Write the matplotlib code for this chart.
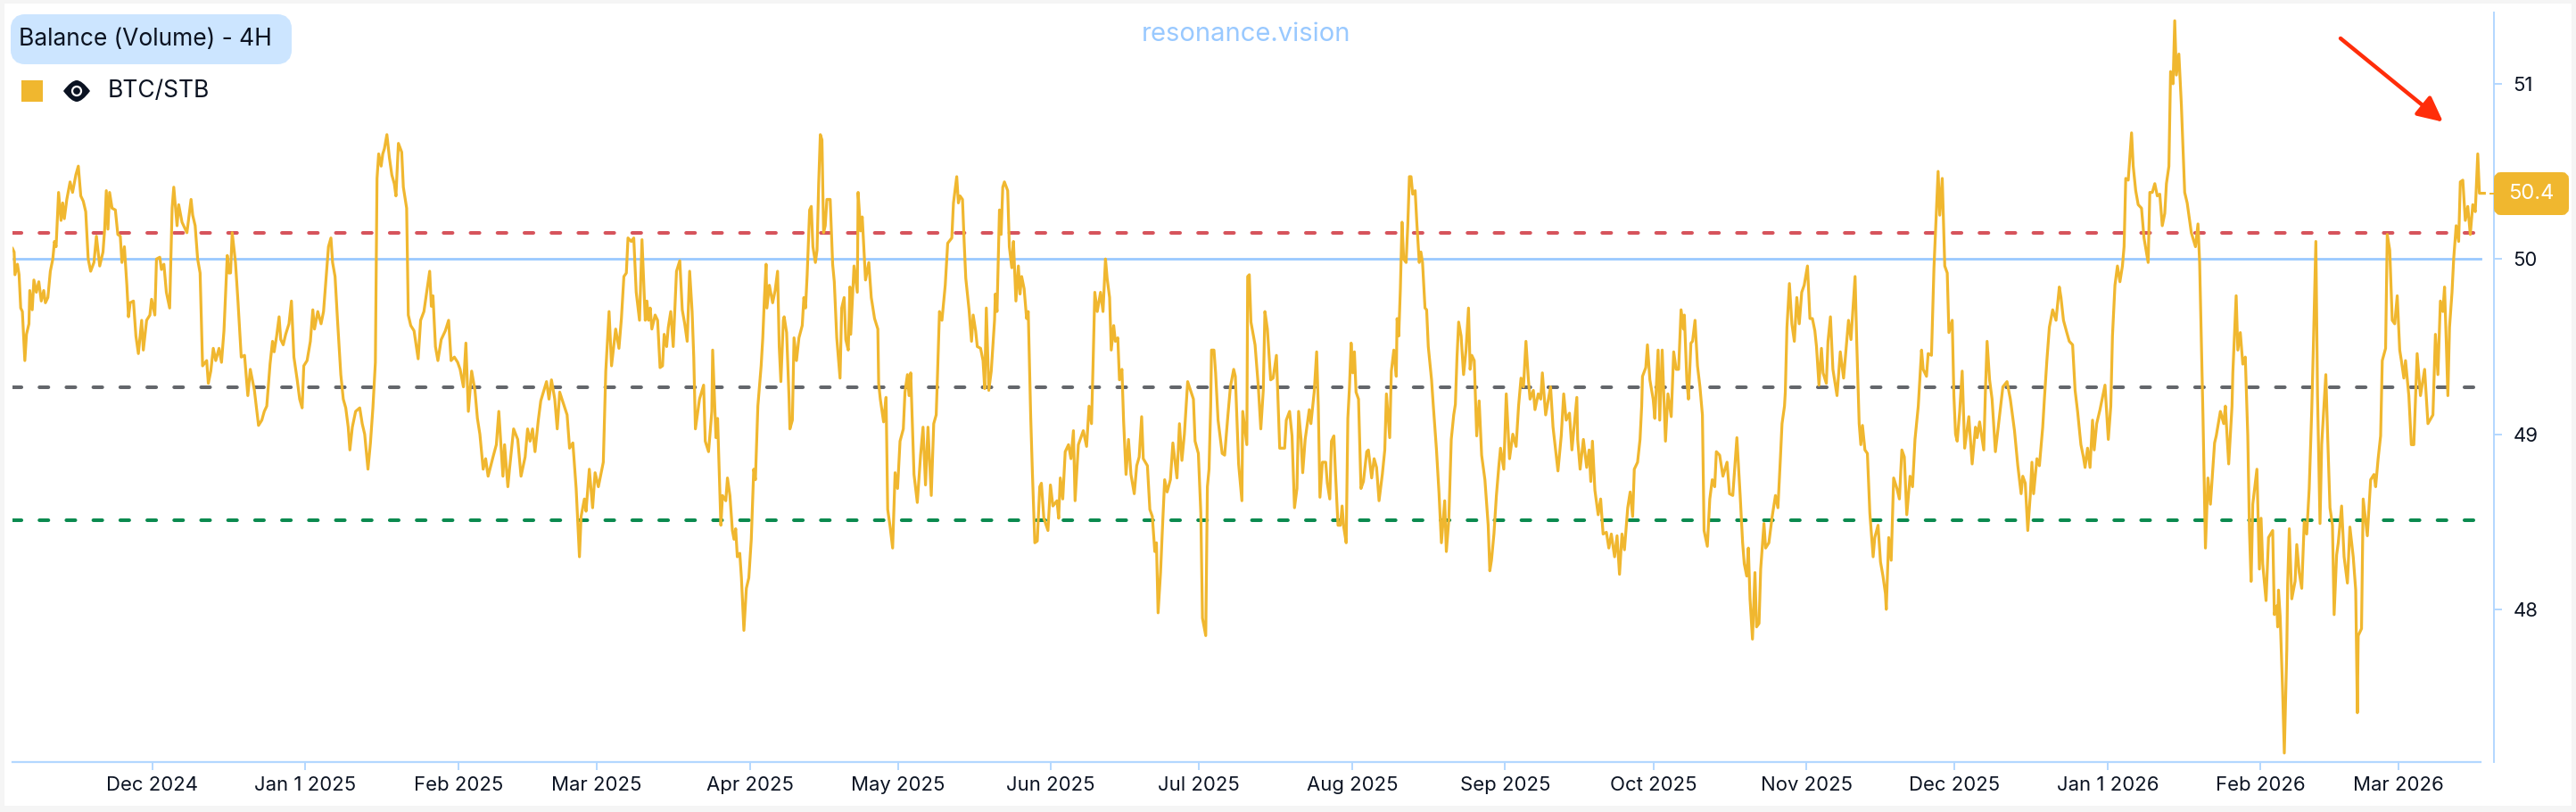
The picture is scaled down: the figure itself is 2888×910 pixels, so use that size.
import matplotlib
matplotlib.use("Agg")
import matplotlib.pyplot as plt
import matplotlib.dates as mdates
from matplotlib.patches import FancyBboxPatch, FancyArrowPatch, PathPatch, Rectangle, Circle
from matplotlib.path import Path
import numpy as np
import pandas as pd

plt.rcParams['font.family'] = ['Inter', 'DejaVu Sans']

# 4H bars counted from the first candle
START = pd.Timestamp("2024-11-02 16:00")

nov_to_mar = [(0,50.06),(2,50.04),(3,49.91),(6,49.97),(8,49.91),(10,49.72),(12,49.70),(15,49.42),(17,49.57),(20,49.63),
(21,49.82),(24,49.71),(26,49.88),(29,49.81),(32,49.87),(35,49.76),(38,49.82),(40,49.75),(43,49.78),(46,49.93),
(49,50.00),(51,50.10),(53,50.07),(56,50.38),(59,50.22),(61,50.32),(63,50.23),(66,50.34),(70,50.44),(73,50.38),
(77,50.48),(80,50.53),(83,50.36),(86,50.33),(89,50.27),(92,50.00),(95,49.93),(99,49.98),(102,50.13),(106,49.96),
(110,50.04),(112,50.17),(114,50.39),(116,50.17),(118,50.38),(121,50.29),(125,50.28),(128,50.14),(131,50.13),(133,49.98),
(136,50.07),(139,49.85),(141,49.67),(143,49.75),(147,49.76),(150,49.56),(153,49.46),(157,49.65),(159,49.48),(163,49.65),
(167,49.68),(169,49.77),(173,49.68),(175,50.00),(179,50.01),(181,49.94),(184,49.97),(187,49.81),(191,49.72),(194,50.29),
(196,50.41),(200,50.19),(202,50.31),(206,50.21),(212,50.15),(217,50.34),(219,50.25),(222,50.19),(225,50.00),(228,49.92),
(231,49.39),(236,49.42),(238,49.29),(241,49.36),(244,49.49),(247,49.42),(251,49.49),(254,49.41),(257,49.59),(261,50.02),
(263,49.92),(265,49.92),(267,50.15),(271,49.98),(274,49.76),(278,49.44),(282,49.45),(286,49.22),(289,49.37),(294,49.25),
(299,49.05),(303,49.08),(306,49.13),(309,49.16),(313,49.40),(316,49.53),(318,49.47),(321,49.56),(324,49.67),(326,49.54),
(329,49.51),(332,49.57),(336,49.63),(339,49.76),(342,49.44),(346,49.31),(349,49.20),(352,49.15),(354,49.39),(358,49.42),
(362,49.53),(365,49.71),(367,49.60),(371,49.70),(375,49.63),(378,49.70),(382,49.95),(384,50.07),(387,50.12),(389,49.98),
(392,49.90),(395,49.65),(399,49.34),(402,49.20),(405,49.15),(408,49.04),(410,48.91),(413,49.04),(417,49.13),(422,49.15),
(425,49.06),(428,49.00),(432,48.80),(435,48.95),(438,49.15),(441,49.41),(443,50.46),(445,50.60),(448,50.53),(450,50.60),
(452,50.63),(455,50.71),(458,50.58),(461,50.48),(464,50.43),(466,50.36),(469,50.66),(473,50.61),(475,50.41),(479,50.29),
(481,49.68),(484,49.62),(488,49.59),(493,49.43),(496,49.65),(500,49.70),(504,49.83),(507,49.93),(509,49.73),(511,49.79),
(514,49.50),(517,49.42),(521,49.54),(526,49.59),(530,49.65),(533,49.42),(537,49.44),(541,49.41),(544,49.37),(548,49.27),
(551,49.52),(554,49.13),(558,49.36),(562,49.25),(565,49.09),(568,49.00),(572,48.80),(575,48.86),(578,48.76),(584,48.87),
(588,48.94),(591,49.13),(596,48.76),(598,48.94),(602,48.70),(604,48.80),(609,49.03),(614,48.97),(618,48.76),(623,48.87),
(626,49.03),(629,48.96),(632,49.03),(635,48.90),(639,49.08),(642,49.19),(649,49.30),(652,49.20),(655,49.31),(659,49.20),
(662,49.03),(665,49.24),(674,49.11),(677,48.92),(681,48.95),(685,48.69),(689,48.30),(691,48.53),(695,48.63),(697,48.56),
(701,48.80),(705,48.58),(708,48.78),(712,48.70),(718,48.84),(721,49.36),(725,49.70),(728,49.39),(733,49.60),(737,49.49),
(740,49.66),(743,49.90),(746,49.92),(748,50.12),(752,50.10),(755,50.12),(758,49.81),(762,49.65)]

mar_to_jul = [(767,50.11),(771,49.65),(773,49.76),(775,49.65),(777,49.72),(779,49.60),(783,49.68),(786,49.65),(789,49.38),(792,49.39),
(794,49.57),(797,49.50),(799,49.61),(802,49.70),(805,49.50),(809,49.93),(813,49.99),(816,49.71),(819,49.63),(822,49.53),
(825,49.93),(828,49.70),(830,49.44),(832,49.03),(837,49.20),(842,49.28),(844,48.96),(848,48.90),(852,49.13),(853,49.48),
(857,48.98),(859,49.09),(863,48.48),(865,48.65),(869,48.62),(871,48.75),(874,48.65),(877,48.45),(879,48.40),(881,48.46),
(883,48.30),(886,48.32),(888,48.18),(891,47.88),(894,48.12),(897,48.18),(900,48.40),(903,48.80),(905,48.74),(908,49.16),
(912,49.39),(914,49.55),(916,49.78),(918,49.97),(919,49.72),(922,49.85),(926,49.75),(929,49.82),(932,49.93),(934,49.50),
(936,49.30),(939,49.65),(940,49.67),(943,49.58),(946,49.20),(947,49.03),(950,49.08),(952,49.55),(955,49.42),(958,49.55),
(962,49.62),(964,49.78),(966,49.72),(968,49.91),(971,50.28),(973,50.30),(975,50.07),(978,49.98),(980,50.05),(982,50.43),
(984,50.71),(986,50.68),(988,50.15),(990,50.19),(992,50.34),(996,50.34),(999,49.97),(1001,49.87),(1004,49.55),(1008,49.32),
(1010,49.72),(1013,49.78),(1015,49.54),(1018,49.48),(1020,49.84),(1021,49.57),(1025,49.96),(1029,49.81),(1030,50.38),(1033,50.16),
(1035,50.24),(1039,49.88),(1043,49.98),(1046,49.78),(1050,49.66),(1054,49.60),(1055,49.29),(1057,49.20),(1061,49.07),(1064,49.21),
(1066,48.57),(1069,48.47),(1072,48.35),(1075,48.78),(1078,48.69),(1081,48.96),(1085,49.03),(1087,49.24),(1090,49.34),(1092,49.22),
(1094,49.35),(1098,48.77),(1102,48.61),(1106,48.88),(1109,49.04),(1112,48.71),(1115,49.04),(1119,48.65),(1122,49.06),(1125,49.11),
(1126,49.25),(1129,49.70),(1132,49.65),(1136,49.85),(1139,50.09),(1144,50.12),(1146,50.32),(1149,50.43),(1150,50.47),(1152,50.32),
(1154,50.36),(1157,50.34),(1159,50.10),(1161,49.89),(1165,49.71),(1168,49.53),(1170,49.68),(1173,49.59),(1175,49.50),(1179,49.49),
(1182,49.42),(1184,49.26),(1186,49.72),(1189,49.25),(1192,49.36),(1196,49.65),(1197,49.80),(1199,49.70),(1202,50.28),(1204,50.14),
(1206,50.41),(1208,50.44),(1212,50.39),(1214,50.07),(1217,49.95),(1219,50.10),(1222,49.76),(1225,49.96),(1227,49.80),(1229,49.90),
(1232,49.83),(1235,49.66),(1237,49.70),(1240,49.10),(1242,48.79),(1245,48.38),(1248,48.39),(1251,48.70),(1253,48.72),(1256,48.52),
(1261,48.45),(1264,48.71),(1267,48.59),(1272,48.62),(1274,48.52),(1276,48.75),(1279,48.63),(1282,48.90),(1286,48.94),(1289,48.86),
(1292,49.02),(1294,48.62),(1298,48.94),(1304,49.02),(1308,48.93),(1311,49.16),(1314,49.06),(1316,49.42),(1318,49.81),(1321,49.70),
(1325,49.81),(1328,49.70),(1331,50.00),(1333,49.89),(1336,49.78),(1338,49.48),(1341,49.62),(1343,49.53),(1346,49.55),(1348,49.31),
(1351,49.37),(1353,49.08),(1356,48.77),(1359,48.97),(1362,48.77),(1366,48.66),(1369,48.82),(1372,48.87),(1375,49.10),(1377,48.86),
(1382,48.82),(1385,48.57),(1388,48.53),(1391,48.33),(1393,48.38),(1395,47.98),(1398,48.21),(1400,48.43),(1403,48.74),(1406,48.67),
(1410,48.74),(1413,48.95),(1415,48.87),(1418,48.75),(1421,49.06),(1424,48.85),(1427,49.00),(1431,49.30),(1438,49.20),(1440,48.96),
(1444,48.89),(1447,48.55),(1449,47.95),(1453,47.85),(1455,48.70),(1457,48.80),(1459,49.16),(1460,49.48),(1463,49.48),(1465,49.35),
(1468,49.08),(1473,48.89),(1476,48.88),(1480,49.11),(1483,49.27),(1487,49.37),(1489,49.33),(1493,48.83),(1497,48.62),(1498,49.13),
(1503,48.94),(1504,49.90),(1506,49.91),(1508,49.64),(1513,49.51),(1517,49.27),(1520,49.03),(1523,49.25),(1525,49.70),(1528,49.60),
(1532,49.31),(1535,49.32),(1539,49.45),(1543,48.92)]

jul_to_nov = [(1549,48.92),(1551,49.08),(1555,49.13),(1558,48.99),(1561,48.58),(1564,48.69),(1566,49.13),(1569,48.97),(1571,48.78),(1574,48.97),
(1579,49.14),(1581,49.06),(1585,49.24),(1588,49.47),(1590,49.16),(1592,48.64),(1595,48.84),(1599,48.84),(1601,48.72),(1604,48.63),
(1606,48.96),(1609,48.99),(1611,48.77),(1614,48.48),(1617,48.48),(1619,48.59),(1621,48.47),(1624,48.38),(1626,49.09),(1628,49.27),
(1630,49.52),(1632,49.35),(1634,49.47),(1636,49.24),(1639,49.20),(1642,48.69),(1645,48.73),(1649,48.90),(1651,48.91),(1655,48.75),
(1658,48.86),(1661,48.81),(1664,48.62),(1668,48.77),(1671,48.91),(1673,49.23),(1677,48.98),(1679,49.36),(1682,49.48),(1685,49.33),
(1686,49.66),(1688,49.56),(1690,49.83),(1692,50.21),(1694,50.00),(1697,49.98),(1699,50.19),(1701,50.47),(1703,50.47),(1705,50.37),
(1708,50.39),(1710,50.21),(1713,49.98),(1715,50.04),(1717,49.98),(1720,49.72),(1722,49.71),(1724,49.50),(1728,49.31),(1730,49.17),
(1734,48.91),(1737,48.67),(1740,48.38),(1744,48.62),(1746,48.33),(1749,48.51),(1752,48.97),(1755,49.11),(1757,49.17),(1759,49.44),
(1761,49.64),(1764,49.56),(1767,49.34),(1770,49.48),(1773,49.72),(1775,49.37),(1777,49.45),(1780,49.42),(1783,48.99),(1786,49.19),
(1789,48.88),(1793,48.74),(1797,48.48),(1799,48.22),(1801,48.28),(1804,48.43),(1807,48.65),(1810,48.82),(1812,48.92),(1816,48.80),
(1819,49.23),(1823,48.86),(1827,49.00),(1831,48.93),(1834,49.16),(1837,49.32),(1840,49.27),(1843,49.53),(1846,49.31),(1848,49.20),
(1852,49.25),(1854,49.14),(1858,49.23),(1861,49.20),(1863,49.35),(1867,49.11),(1873,49.27),(1876,49.04),(1882,48.79),(1886,48.99),
(1889,49.23),(1892,49.08),(1896,49.12),(1899,48.91),(1905,49.21),(1906,48.97),(1909,48.80),(1913,48.97),(1917,48.81),(1920,48.91),
(1922,48.73),(1924,48.96),(1927,48.68),(1931,48.54),(1934,48.63),(1937,48.43),(1941,48.44),(1944,48.35),(1947,48.43),(1951,48.30),
(1954,48.42),(1957,48.20),(1960,48.43),(1963,48.34),(1967,48.58),(1970,48.67),(1973,48.53),(1975,48.80),(1979,48.84),(1982,48.97),
(1984,49.16),(1985,49.33),(1989,49.38),(1991,49.51),(1994,49.31),(1998,49.20),(2000,49.09),(2004,49.48),(2006,49.08),(2009,49.48),
(2013,48.96),(2016,49.23),(2020,49.10),(2023,49.47),(2026,49.37),(2029,49.37),(2032,49.71),(2035,49.60),(2036,49.68),(2039,49.31),
(2041,49.20),(2044,49.52),(2046,49.53),(2049,49.65),(2052,49.39),(2055,49.27),(2058,49.11),(2060,48.45),(2064,48.36),(2067,48.63),
(2070,48.74),(2073,48.70),(2075,48.90),(2079,48.88),(2083,48.76),(2088,48.84),(2091,48.66),(2095,48.65),(2100,48.98),(2104,48.65),
(2107,48.38),(2109,48.26),(2112,48.19),(2114,48.35),(2116,48.06),(2119,47.83),(2122,48.21),(2124,47.90),(2127,47.92),(2129,48.23),
(2133,48.49),(2135,48.35),(2139,48.38),(2143,48.53),(2147,48.65),(2150,48.58),(2153,48.86),(2155,49.06),(2158,49.16),(2159,49.24),
(2161,49.61),(2164,49.86),(2167,49.63),(2170,49.53),(2173,49.78),(2176,49.63),(2179,49.81),(2182,49.85),(2186,49.96),(2189,49.66),
(2192,49.66),(2195,49.59),(2197,49.50),(2200,49.28),(2203,49.49),(2205,49.35),(2209,49.29),(2211,49.53),(2214,49.67),(2217,49.37),
(2222,49.22),(2226,49.47),(2230,49.32),(2236,49.65),(2239,49.54),(2244,49.90),(2246,49.53),(2249,49.06),(2251,48.94),(2253,49.05),
(2256,48.91),(2259,48.89),(2262,48.55),(2266,48.30),(2268,48.41),(2272,48.48),(2275,48.27),(2278,48.19),(2281,48.09),(2282,48.00),
(2285,48.41),(2288,48.28),(2291,48.75),(2295,48.69),(2298,48.63),(2301,48.91),(2304,48.87),(2307,48.54),(2311,48.76),(2314,48.70),
(2317,48.97),(2321,49.16),(2325,49.48),(2327,49.37)]

nov_to_end = [(2332,49.33),(2334,49.46),(2338,49.45),(2341,49.95),(2346,50.50),(2348,50.25),(2351,50.46),(2354,49.96),(2357,49.92),(2359,49.58),
(2363,49.65),(2365,49.22),(2367,49.00),(2369,48.96),(2372,49.13),(2375,49.36),(2378,48.92),(2383,49.10),(2387,48.83),(2391,49.04),
(2393,48.98),(2396,49.07),(2401,48.91),(2403,49.25),(2405,49.53),(2408,49.31),(2411,49.20),(2415,48.90),(2424,49.27),(2429,49.30),
(2433,49.20),(2438,49.02),(2442,48.82),(2446,48.66),(2448,48.76),(2451,48.72),(2454,48.45),(2457,48.65),(2459,48.84),(2461,48.66),
(2465,48.86),(2468,48.82),(2472,49.04),(2474,49.20),(2477,49.42),(2480,49.61),(2484,49.71),(2488,49.65),(2492,49.84),(2494,49.78),
(2497,49.65),(2501,49.58),(2504,49.53),(2508,49.51),(2511,49.25),(2514,49.13),(2518,48.94),(2521,48.87),(2523,48.81),(2526,48.92),
(2529,48.81),(2532,49.08),(2534,48.91),(2537,49.06),(2541,49.14),(2547,49.28),(2551,48.97),(2554,49.16),(2556,49.56),(2559,49.85),
(2562,49.96),(2565,49.87),(2568,49.96),(2570,50.07),(2572,50.46),(2575,50.45),(2579,50.72),(2581,50.53),(2584,50.39),(2587,50.31),
(2591,50.29),(2594,50.12),(2599,49.98),(2601,50.38),(2604,50.38),(2607,50.43),(2610,50.36),(2613,50.37),(2616,50.19),(2619,50.26),
(2621,50.43),(2624,50.53),(2626,51.07),(2629,51.00),(2631,51.36),(2633,51.05),(2636,51.17),(2639,50.88),(2643,50.38),(2646,50.32),
(2651,50.15),(2656,50.07),(2659,50.20),(2661,49.98),(2664,49.31),(2665,49.11),(2668,48.35),(2671,48.75),(2674,48.60),(2679,48.95),
(2681,48.99),(2686,49.13),(2690,49.06),(2692,49.16),(2696,48.83),(2700,49.16),(2701,49.35),(2705,49.79),(2707,49.48),(2710,49.58),
(2713,49.40),(2716,49.44),(2719,48.99),(2721,48.45),(2723,48.16),(2725,48.60),(2730,48.80),(2733,48.23),(2735,48.52),(2737,48.26),
(2741,48.05),(2744,48.41),(2749,48.45),(2751,47.97),(2754,48.02),(2755,47.90),(2756,48.11),(2758,47.96),(2761,47.53),(2763,47.18),
(2766,47.77),(2767,48.14),(2769,48.46),(2772,48.06),(2776,48.16),(2778,48.37),(2781,48.21),(2784,48.12),(2787,48.50),(2790,48.43),
(2793,48.69),(2796,49.13),(2798,49.50),(2801,50.10),(2803,49.22),(2806,48.49),(2808,48.94),(2813,49.34),(2815,49.02),(2818,48.58),
(2821,48.48),(2823,47.97),(2826,48.31),(2828,48.38),(2832,48.59),(2835,48.30),(2839,48.15),(2842,48.47),(2846,48.30),(2849,48.11),
(2851,47.41),(2852,47.85),(2856,47.89),(2858,48.63),(2863,48.42),(2867,48.74),(2871,48.77),(2873,48.70),(2876,48.86),(2879,48.99),
(2881,49.42),(2885,49.49),(2887,50.14),(2890,50.05),(2893,49.65),(2896,49.63),(2899,49.79),(2902,49.48),(2904,49.42),(2907,49.32),
(2909,49.42),(2913,49.22),(2916,48.94),(2919,48.94),(2923,49.46),(2927,49.22),(2932,49.37),(2936,49.06),(2942,49.11),(2945,49.57),
(2948,49.34),(2951,49.76),(2954,49.70),(2956,49.84),(2958,49.54),(2960,49.22),(2962,49.61),(2965,49.81),(2967,50.00),(2970,50.19),
(2973,50.10),(2975,50.44),(2978,50.45),(2981,50.22),(2984,50.30),(2987,50.14),(2990,50.31),(2993,50.27),(2996,50.60),(2998,50.375),
(3004,50.375)]

# bar count drifts a little over each stretch, (at first bar, at last bar)
bar_drift = [(0, 0), (2, 3), (3, 5), (6, 0)]

upper_band = 50.15
mid_band = 49.27
lower_band = 48.51
base_level = 50.0
last_value = "50.4"

month_ticks = ["2024-12-01", "2025-01-01", "2025-02-01", "2025-03-01", "2025-04-01", "2025-05-01", "2025-06-01", "2025-07-01",
               "2025-08-01", "2025-09-01", "2025-10-01", "2025-11-01", "2025-12-01", "2026-01-01", "2026-02-01", "2026-03-01"]
month_labels = ["Dec 2024", "Jan 1 2025", "Feb 2025", "Mar 2025", "Apr 2025", "May 2025", "Jun 2025", "Jul 2025",
                "Aug 2025", "Sep 2025", "Oct 2025", "Nov 2025", "Dec 2025", "Jan 1 2026", "Feb 2026", "Mar 2026"]
value_ticks = [48, 49, 50, 51]

LINE = "#f0b72f"
AXIS = "#b3d7ff"
INK = "#0b1322"
W, H = 2888, 910

dates, values = [], []
for stretch, drift in zip([nov_to_mar, mar_to_jul, jul_to_nov, nov_to_end], bar_drift):
    bars = np.array([b for b, v in stretch], dtype=float)
    bars = bars - np.interp(bars, [bars[0], bars[-1]], drift)
    dates += [START + pd.Timedelta(hours=4 * b) for b in bars]
    values += [v for b, v in stretch]

fig = plt.figure(figsize=(W / 100, H / 100), dpi=100, facecolor="#f5f5f5")

# background card, chart and overlay share the same pixel layout
bg = fig.add_axes([0, 0, 1, 1], zorder=0)
bg.set_xlim(0, W)
bg.set_ylim(H, 0)
bg.axis("off")
bg.add_patch(Rectangle((4.5, 4), 2883 - 4.5, 903 - 4, facecolor="white", edgecolor="none"))

ax = fig.add_axes([14 / W, 1 - 853.7 / H, (2796 - 14) / W, (853.7 - 14) / H], zorder=1, facecolor="none")
right_date = START + pd.Timedelta(days=502.6)
end_axis = START + pd.Timedelta(days=499.8)
ax.set_xlim(START, right_date)
ax.set_ylim(47.13, 51.407)

for level, col in [(upper_band, "#d6545c"), (mid_band, "#63666b"), (lower_band, "#0a8a4f")]:
    ax.plot([START, end_axis], [level, level], color=col, lw=2.9, dashes=(2.5, 5),
            dash_capstyle="round", zorder=2)
ax.plot([START, end_axis], [base_level, base_level], color="#99c9ff", lw=2.0, zorder=1)
ax.plot(dates, values, color=LINE, lw=2.3, solid_joinstyle="round", zorder=3)

for side in ["top", "left"]:
    ax.spines[side].set_visible(False)
ax.spines["bottom"].set_color(AXIS)
ax.spines["bottom"].set_linewidth(1.6)
ax.spines["bottom"].set_bounds(mdates.date2num(START), mdates.date2num(end_axis))
ax.spines["right"].set_color(AXIS)
ax.spines["right"].set_linewidth(1.4)

ax.set_xticks([pd.Timestamp(d) for d in month_ticks])
ax.set_xticklabels(month_labels)
ax.yaxis.tick_right()
ax.set_yticks(value_ticks)
ax.set_yticklabels([str(v) for v in value_ticks])
ax.tick_params(axis="x", length=6.5, width=1.4, color=AXIS, labelsize=15.9, labelcolor=INK, pad=5)
ax.tick_params(axis="y", length=6.5, width=1.4, color=AXIS, labelsize=15.9, labelcolor=INK, pad=9)

# title chip, legend, watermark, arrow and last value tag
top = fig.add_axes([0, 0, 1, 1], zorder=2, facecolor="none")
top.set_xlim(0, W)
top.set_ylim(H, 0)
top.axis("off")

top.add_patch(FancyBboxPatch((20, 24), 299, 40, boxstyle="round,pad=0,rounding_size=8",
                             facecolor="#cce5ff", edgecolor="#cce5ff", lw=16 * 0.72))
top.text(21, 44, "Balance (Volume) - 4H", fontsize=19, color=INK, va="center", ha="left")

top.add_patch(Rectangle((24, 90), 24, 24, facecolor=LINE, edgecolor="none"))
eye = Path([(71, 102), (80, 90), (86, 90), (92, 90), (101, 102), (92, 114), (86, 114), (80, 114), (71, 102)],
           [Path.MOVETO, Path.CURVE3, Path.LINETO, Path.CURVE3, Path.LINETO, Path.CURVE3, Path.LINETO, Path.CURVE3, Path.LINETO])
top.add_patch(PathPatch(eye, facecolor=INK, edgecolor="none"))
top.add_patch(Circle((86, 102), 5, facecolor="none", edgecolor="white", lw=1.6))
top.text(121, 102, "BTC/STB", fontsize=19, color=INK, va="center", ha="left")

top.text(1396.5, 39, "resonance.vision", fontsize=21, color="#99c9ff", va="center", ha="center")

top.add_patch(FancyArrowPatch((2624, 43), (2739, 136.7), arrowstyle="-|>,head_length=17,head_width=8.3",
                              color="#ff2d0a", lw=3.2, shrinkA=0, shrinkB=0, mutation_scale=1))

top.plot([2792, 2796], [216.7, 216.7], color=LINE, lw=1.4)
top.add_patch(FancyBboxPatch((2803, 200), 70, 34, boxstyle="round,pad=0,rounding_size=1",
                             facecolor=LINE, edgecolor=LINE, lw=14 * 0.72))
top.text(2838, 217, last_value, fontsize=17, color="white", va="center", ha="center")

fig.savefig("out.png", dpi=100, facecolor=fig.get_facecolor())
